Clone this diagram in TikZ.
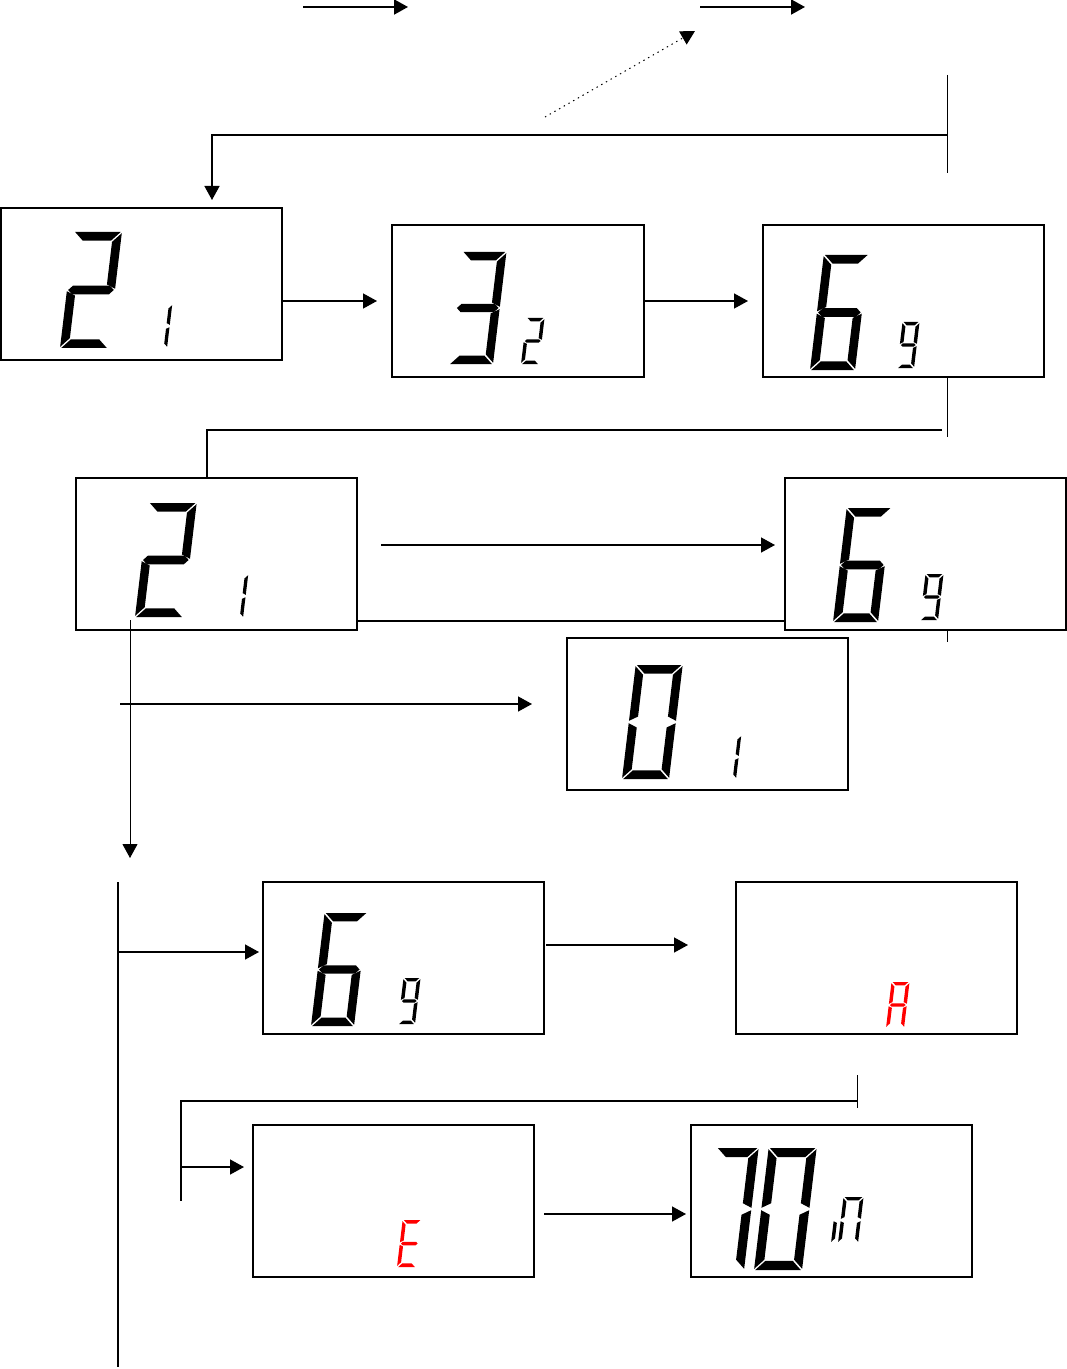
\documentclass[tikz,border=0pt]{standalone}
\usepackage{tikz}
\usetikzlibrary{arrows.meta,positioning,calc}

% seven-segment pieces, local frame: origin bottom left, y up
\newcommand{\lcdsega}{\fill (\lcdG,\lcdH) -- (\lcdW-\lcdG,\lcdH) -- (\lcdW-\lcdT-\lcdG,\lcdH-\lcdT) -- (\lcdT+\lcdG,\lcdH-\lcdT) -- cycle;}
\newcommand{\lcdsegd}{\fill (\lcdG,0) -- (\lcdW-\lcdG,0) -- (\lcdW-\lcdT-\lcdG,\lcdT) -- (\lcdT+\lcdG,\lcdT) -- cycle;}
\newcommand{\lcdsegg}{\fill (\lcdG,0.5*\lcdH) -- (0.5*\lcdT+\lcdG,0.5*\lcdH+0.5*\lcdT) -- (\lcdW-0.5*\lcdT-\lcdG,0.5*\lcdH+0.5*\lcdT) -- (\lcdW-\lcdG,0.5*\lcdH) -- (\lcdW-0.5*\lcdT-\lcdG,0.5*\lcdH-0.5*\lcdT) -- (0.5*\lcdT+\lcdG,0.5*\lcdH-0.5*\lcdT) -- cycle;}
\newcommand{\lcdsegf}{\fill (0,\lcdH-\lcdG) -- (\lcdT,\lcdH-\lcdT-\lcdG) -- (\lcdT,0.5*\lcdH+0.5*\lcdT+\lcdG) -- (0,0.5*\lcdH+\lcdG) -- cycle;}
\newcommand{\lcdsegb}{\fill (\lcdW,\lcdH-\lcdG) -- (\lcdW-\lcdT,\lcdH-\lcdT-\lcdG) -- (\lcdW-\lcdT,0.5*\lcdH+0.5*\lcdT+\lcdG) -- (\lcdW,0.5*\lcdH+\lcdG) -- cycle;}
\newcommand{\lcdsege}{\fill (0,\lcdG) -- (\lcdT,\lcdT+\lcdG) -- (\lcdT,0.5*\lcdH-0.5*\lcdT-\lcdG) -- (0,0.5*\lcdH-\lcdG) -- cycle;}
\newcommand{\lcdsegc}{\fill (\lcdW,\lcdG) -- (\lcdW-\lcdT,\lcdT+\lcdG) -- (\lcdW-\lcdT,0.5*\lcdH-0.5*\lcdT-\lcdG) -- (\lcdW,0.5*\lcdH-\lcdG) -- cycle;}

% [colour]{x}{y}{height}{width}{segments}
\newcommand{\lcddigit}[6][black]{%
  \begin{scope}[shift={(#2,#3)}, y=0.5pt, xslant=0.12, color=#1]
    \pgfmathsetmacro{\lcdH}{#4}
    \pgfmathsetmacro{\lcdW}{#5}
    \pgfmathsetmacro{\lcdT}{0.075*#4}
    \def\lcdG{1.2}
    \foreach \s in {#6} {\csname lcdseg\s\endcsname}
  \end{scope}}

\begin{document}
\begin{tikzpicture}[
  x=0.5pt, y=-0.5pt,
  lcdbox/.style={rectangle, draw, line width=0.9pt, minimum width=140.5pt,
               minimum height=76pt, inner sep=0pt, outer sep=0pt, anchor=north west},
  arrow/.style={-{Triangle[length=7pt, width=7.5pt]}, line width=0.7pt},
  link/.style={line width=0.6pt},
]
\useasboundingbox (0,0) rectangle (1066,1369);

% screens
\node[lcdbox] (lcd1) at (1,208) {};
\node[lcdbox, minimum width=126pt] (lcd2) at (392,225) {};
\node[lcdbox] (lcd3) at (763,225) {};
\node[lcdbox] (lcd4) at (76,478) {};
\node[lcdbox] (lcd5) at (785,478) {};
\node[lcdbox] (lcd6) at (567,638) {};
\node[lcdbox] (lcd7) at (263,882) {};
\node[lcdbox] (lcd8) at (736,882) {};
\node[lcdbox] (lcd9) at (253,1125) {};
\node[lcdbox] (lcd10) at (691,1125) {};

% digits
\lcddigit{60}{348}{116}{48}{a,b,g,e,d}
\lcddigit{147}{348}{44}{20}{b,c}
\lcddigit{449}{364}{112}{44}{a,b,g,c,d}
\lcddigit{521}{364}{46}{18}{a,b,g,e,d}
\lcddigit{810}{370}{115}{45}{a,f,g,e,d,c}
\lcddigit{897}{368}{46}{17}{a,b,c,d,f,g}
\lcddigit{135}{617}{114}{48}{a,b,g,e,d}
\lcddigit{223}{618}{44}{20}{b,c}
\lcddigit{833}{622}{114}{45}{a,f,g,e,d,c}
\lcddigit{920}{620}{46}{18}{a,b,c,d,f,g}
\lcddigit{622}{779}{114}{47}{a,b,c,d,e,f}
\lcddigit{716}{779}{44}{20}{b,c}
\lcddigit{311}{1026}{113}{43}{a,f,g,e,d,c}
\lcddigit{398}{1024}{46}{17}{a,b,c,d,f,g}
\lcddigit[red]{886}{1028}{46}{18}{a,b,c,e,f,g}
\lcddigit[red]{397}{1267}{47}{19}{a,d,e,f,g}
\lcddigit{702}{1270}{122}{42}{a,b,c}
\lcddigit{754}{1270}{122}{48}{a,b,c,d,e,f}
\lcddigit{831}{1243}{46}{10}{e}
\lcddigit{838}{1243}{46}{20}{a,b,c,e,f}

% top row
\coordinate (t1) at (303,7);
\coordinate (t2) at (408,7);
\coordinate (t3) at (700,7);
\coordinate (t4) at (805,7);
\coordinate (p0) at (545,117);
\coordinate (p1) at (695,31);
\draw[arrow, line width=1pt] (t1) -- (t2);
\draw[arrow, line width=1pt] (t3) -- (t4);
\draw[arrow, dotted, line width=0.5pt] (p0) -- (p1);

% back to first screen
\coordinate (k0) at (947,75);
\coordinate (k1) at (947,173);
\coordinate (j1) at (947,135);
\coordinate (j0) at (212,135);
\draw[link, line width=0.5pt] (k0) -- (k1);
\draw[arrow, shorten >=4pt] (j1) -- (j0) -- (j0 |- lcd1.north);

% first row
\draw[arrow, shorten >=7.5pt] (lcd1.east |- lcd2.west) -- (lcd2.west);
\draw[arrow, shorten >=7.5pt] (lcd2.east) -- (lcd3.west);

% down to second row
\coordinate (b3) at (947,430);
\coordinate (b4) at (207,430);
\draw[link, line width=0.5pt] (b3 |- lcd3.south) -- ++(0,60);
\draw[link] ([xshift=-2.5pt]b3) -- (b4) -- (b4 |- lcd4.north);

% second row
\draw[arrow, shorten <=12pt, shorten >=5pt] ([yshift=4.5pt]lcd4.east) -- ([yshift=4.5pt]lcd5.west);
\draw[link] ([yshift=-33.5pt]lcd4.east) -- ([yshift=-33.5pt]lcd5.west);
\draw[link, line width=0.5pt] (b3 |- lcd5.south) -- ++(0,12);
\coordinate (d4) at (130,620);
\coordinate (d5) at (130,858);
\draw[arrow, line width=0.45pt] (d4) -- (d5);
\coordinate (h6) at (120,704);
\draw[arrow, shorten >=17.5pt] (h6) -- (h6 -| lcd6.west);

% third part
\coordinate (v1) at (118,882);
\coordinate (v2) at (118,1367);
\draw[link] (v1) -- (v2);
\coordinate (h7) at ([yshift=3pt]lcd7.west);
\draw[arrow, shorten >=2pt] (h7 -| v1) -- (h7);
\draw[arrow, shorten <=1pt, shorten >=24pt] ([yshift=6.5pt]lcd7.east) -- ([yshift=6.5pt]lcd8.west);
\coordinate (b8) at (857,1101);
\coordinate (b9) at (181,1101);
\draw[link, line width=0.5pt] ([yshift=13pt]b8) -- ([yshift=-3.5pt]b8);
\draw[link] (b8) -- (b9) -- ++(0,100);
\coordinate (h9) at ([yshift=17pt]lcd9.west);
\draw[arrow, shorten >=4.5pt] (h9 -| b9) -- (h9);
\draw[arrow, shorten <=5pt, shorten >=2.5pt] ([yshift=-6.5pt]lcd9.east) -- ([yshift=-6.5pt]lcd10.west);

\end{tikzpicture}
\end{document}
